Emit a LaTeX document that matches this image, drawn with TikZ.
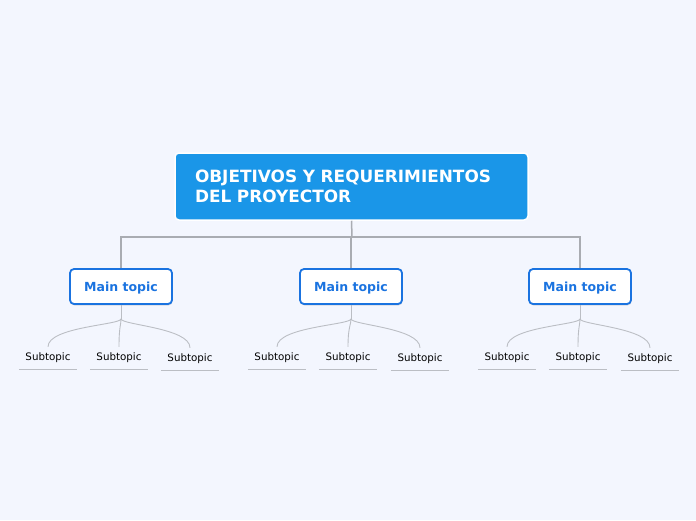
\documentclass[tikz,border=0pt]{standalone}
\usepackage{fontspec}
\setmainfont{DejaVu Sans}
\usetikzlibrary{calc,shadows}
\definecolor{bgpage}{HTML}{F3F6FE}
\definecolor{rootblue}{HTML}{1A96E8}
\definecolor{topicblue}{HTML}{1A73E0}
\definecolor{linegray}{HTML}{A9ACB2}
\definecolor{subgray}{HTML}{BBBEC4}
\tikzset{
  rootbox/.style={draw=white, line width=1.5pt, fill=rootblue, rounded corners=4pt,
    minimum width=353pt, minimum height=67pt, text width=313pt, align=left,
    text=white, font=\bfseries\fontsize{16.9}{20.5}\selectfont},
  topicbox/.style={draw=topicblue, line width=1.8pt, fill=white, rounded corners=4pt,
    minimum width=102pt, minimum height=35pt, text=topicblue, text depth=0pt,
    font=\bfseries\fontsize{12.5}{15}\selectfont,
    drop shadow={opacity=0.25, shadow xshift=0.5pt, shadow yshift=-1.5pt}},
  subbox/.style={minimum width=58pt, minimum height=24pt, inner sep=0pt, text depth=0pt,
    font=\fontsize{10.3}{12}\selectfont},
  branch/.style={draw=linegray, line width=1.5pt},
  twig/.style={draw=subgray, line width=0.9pt},
}
\begin{document}
\begin{tikzpicture}[x=1pt, y=-1pt]
		%%%%% START %%%%%
		
		\fill[bgpage] (0, 0) rectangle (696, 520);
		\useasboundingbox (0, 0) rectangle (696, 520);
		
		\node[rootbox] (root) at (351.5, 186.5) {OBJETIVOS Y REQUERIMIENTOS\\DEL PROYECTOR};
		
		\node[topicbox] (m1) at (121, 286.5) {Main topic};
		\node[topicbox] (m2) at (351, 286.5) {Main topic};
		\node[topicbox] (m3) at (580, 286.5) {Main topic};
		
		\coordinate (hub) at (352, 237);
		\draw[branch] (root.south) -- (hub);
		\draw[branch] (m1.north) |- (hub) -| (m3.north);
		\draw[branch] (hub -| m2.north) -- (m2.north);
		
		\foreach \t/\xa/\xb/\xc in {m1/48/119/190, m2/277/348/420, m3/507/578/650} {
			\node[subbox] (\t a) at (\xa, 357) {Subtopic};
			\node[subbox] (\t b) at (\xb, 357) {Subtopic};
			\node[subbox] (\t c) at (\xc, 358) {Subtopic};
			\coordinate (\t j) at ($(\t.south)+(0, 14)$);
			\draw[twig] (\t.south) -- (\t j);
			\foreach \s in {a, b, c} {
				\draw[twig] (\t j) .. controls ([yshift=-6pt]\t j) and ([yshift=18pt]\t\s.north) .. ([yshift=-2pt]\t\s.north);
				\draw[twig, line width=1.2pt] (\t\s.south west) -- (\t\s.south east);
			}
		}
		
		%%%%% END %%%%%
	\end{tikzpicture}
\end{document}
